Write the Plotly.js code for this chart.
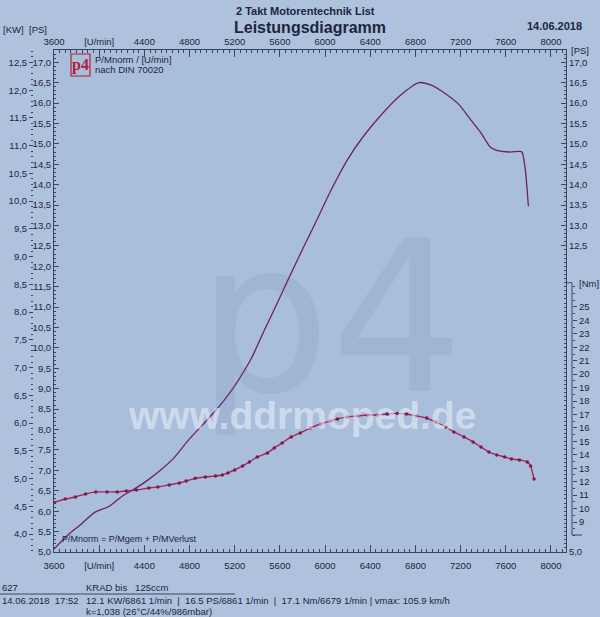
<!DOCTYPE html>
<html><head><meta charset="utf-8">
<script src="https://cdn.plot.ly/plotly-3.0.1.min.js"></script>
<style>html,body{margin:0;padding:0;background:#aec2dd;} #chart{width:600px;height:617px;}</style>
</head><body><div id="chart"></div>
<script>
// ---- data ----
const rpmPower = [3600,3720,3840,3960,4090,4200,4310,4440,4550,4660,4790,4910,5030,5130,5230,5350,5460,5580,5660,5780,5900,6050,6200,6330,6510,6650,6830,6940,7050,7180,7290,7380,7460,7520,7640,7740,7770,7800];
const psPower  = [5.07,5.41,5.68,5.97,6.12,6.36,6.54,6.78,7.02,7.30,7.74,8.10,8.46,8.80,9.20,9.76,10.42,11.12,11.60,12.30,12.98,13.85,14.62,15.15,15.75,16.15,16.50,16.44,16.26,15.98,15.59,15.27,14.93,14.84,14.80,14.81,14.43,13.47];
const rpmTorque = [3600,3700,3790,3880,3970,4070,4160,4240,4330,4440,4520,4620,4710,4770,4850,4940,5030,5090,5140,5200,5270,5330,5400,5490,5550,5620,5700,5780,5870,5960,6050,6110,6200,6290,6380,6460,6550,6640,6720,6810,6900,6980,7070,7140,7230,7310,7380,7450,7520,7590,7650,7720,7790,7820,7850];
const nmTorque  = [10.45,10.71,10.86,11.09,11.24,11.24,11.24,11.31,11.38,11.53,11.61,11.76,11.90,12.05,12.25,12.35,12.43,12.50,12.65,12.87,13.17,13.47,13.84,14.14,14.51,14.88,15.33,15.63,16.00,16.29,16.52,16.67,16.82,16.89,16.96,16.96,17.04,17.08,17.04,16.89,16.74,16.44,16.07,15.70,15.33,14.96,14.58,14.21,13.99,13.84,13.69,13.62,13.47,13.17,12.20];
const xTickVals = [3600,4000,4400,4800,5200,5600,6000,6400,6800,7200,7600,8000];
const xTickText = ['3600','[U/min]','4400','4800','5200','5600','6000','6400','6800','7200','7600','8000'];
const psTickVals = [5,5.5,6,6.5,7,7.5,8,8.5,9,9.5,10,10.5,11,11.5,12,12.5,13,13.5,14,14.5,15,15.5,16,16.5,17];
const kwTickVals = [4,4.5,5,5.5,6,6.5,7,7.5,8,8.5,9,9.5,10,10.5,11,11.5,12,12.5];
const psRightTickVals = [5,12.5,13,13.5,14,14.5,15,15.5,16,16.5,17];
const nmTickVals = [9,10,11,12,13,14,15,16,17,18,19,20,21,22,23,24,25];

// ---- layout helpers ----
const W=600,H=617,L=26,R=18,T=50,B=65;
const px = x => (x-L)/(W-L-R);
const py = y => (H-B-y)/(H-T-B);
const PS_RANGE=[5,17.3];
const KW_PER_PS=0.7355;
const NM_RANGE=[6.768,44.12];
const X_RANGE=[3600,8133];
const TXT='#1c2540', AX='#3a4660';
const FONT='Liberation Sans, Arial, sans-serif';

const nmMinor=[]; for(let v=8;v<=26.6;v+=0.5) nmMinor.push(+v.toFixed(1));

const traces = [
  {x:rpmPower, y:psPower, xaxis:'x', yaxis:'y', mode:'lines', name:'P',
   line:{color:'#6e2260', width:1.3, shape:'spline', smoothing:0.6}, hoverinfo:'skip'},
  {x:rpmTorque, y:nmTorque, xaxis:'x', yaxis:'y3', mode:'lines+markers', name:'M',
   line:{color:'#a3275e', width:1.4, shape:'spline', smoothing:0.4},
   marker:{size:3.5, color:'#7d1a4c'}, hoverinfo:'skip'},
  // carriers so that the extra scales (top rpm, kW, right PS) are drawn; they draw nothing
  {x:rpmPower, y:psPower, xaxis:'x2', yaxis:'y2', mode:'none', hoverinfo:'skip'},
  {x:rpmPower, y:psPower, xaxis:'x', yaxis:'y4', mode:'none', hoverinfo:'skip'}
];

function ann(text,x,y,opt){ return Object.assign({text:text, x:px(x), y:py(y), xref:'paper', yref:'paper', showarrow:false, xanchor:'left', yanchor:'middle', font:{family:FONT,size:9.5,color:TXT}}, opt||{}); }

const xCommon = {range:X_RANGE, tickmode:'array', tickvals:xTickVals, ticktext:xTickText,
    ticks:'inside', ticklen:7, tickcolor:AX, showline:true, linecolor:AX, linewidth:1, showgrid:false, zeroline:false,
    tickfont:{size:9.5}, minor:{ticks:'inside', dtick:50, tick0:3600, ticklen:3, tickcolor:AX}};

const layout = {
  width:W, height:H, margin:{l:L,r:R,t:T,b:B},
  paper_bgcolor:'#aec2dd', plot_bgcolor:'#a9bedb',
  separators:',.', showlegend:false,
  font:{family:FONT, color:TXT, size:10},
  xaxis:Object.assign({domain:[px(54),px(566)], ticklabelstandoff:5}, xCommon),
  xaxis2:Object.assign({overlaying:'x', side:'top', anchor:'y'}, xCommon),
  yaxis:{range:PS_RANGE, tickmode:'array', tickvals:psTickVals, tickformat:'.1f', ticks:'inside', ticklen:5, tickcolor:AX,
    showline:true, linecolor:AX, showgrid:false, zeroline:false, tickfont:{size:9.5},
    minor:{ticks:'inside', dtick:0.1, tick0:5, ticklen:2, tickcolor:AX}},
  yaxis2:{overlaying:'y', anchor:'free', position:px(33), side:'left', range:[PS_RANGE[0]*KW_PER_PS, PS_RANGE[1]*KW_PER_PS],
    tickmode:'array', tickvals:kwTickVals, tickformat:'.1f', ticks:'outside', ticklen:4, tickcolor:AX,
    showline:false, showgrid:false, zeroline:false, tickfont:{size:9.5},
    minor:{ticks:'outside', dtick:0.1, tick0:4, ticklen:2, tickcolor:AX}},
  yaxis3:{overlaying:'y', anchor:'free', position:px(572), side:'right', range:NM_RANGE,
    tickmode:'array', tickvals:nmTickVals, tickformat:'d', ticks:'outside', ticklen:4, tickcolor:AX,
    showline:false, showgrid:false, zeroline:false, tickfont:{size:9.5},
    minor:{ticks:'outside', tickmode:'array', tickvals:nmMinor, ticklen:2, tickcolor:AX}},
  yaxis4:{overlaying:'y', anchor:'x', side:'right', range:PS_RANGE, tickmode:'array', tickvals:psRightTickVals, tickformat:'.1f',
    ticks:'inside', ticklen:5, tickcolor:AX, showline:true, linecolor:AX, showgrid:false, zeroline:false, tickfont:{size:9.5},
    minor:{ticks:'inside', dtick:0.1, tick0:5, ticklen:2, tickcolor:AX}},
  shapes:[
    {type:'line', xref:'paper', yref:'y3', x0:px(572), x1:px(572), y0:8.03, y1:26.8, line:{color:AX,width:1}},
    {type:'line', xref:'paper', yref:'y3', x0:px(566), x1:px(572), y0:26.8, y1:26.8, line:{color:AX,width:1}},
    {type:'line', xref:'paper', yref:'y3', x0:px(572), x1:px(582), y0:8.03, y1:8.03, line:{color:AX,width:1}},
    {type:'rect', xref:'paper', yref:'paper', x0:px(71), x1:px(90), y0:py(54), y1:py(76), line:{color:'#b0203a',width:1.2}},
    {type:'line', xref:'paper', yref:'paper', x0:px(0), x1:px(235), y0:py(594), y1:py(594), line:{color:TXT,width:0.8}}
  ],
  annotations:[
    ann('p4', 330, 318, {xanchor:'center', font:{family:'DejaVu Sans, sans-serif', size:210, color:'rgba(100,120,160,0.13)'}}),
    ann('<b>www.ddrmoped.de</b>', 302, 415, {xanchor:'center', font:{family:FONT, size:39, color:'rgba(238,244,252,0.55)'}}),
    ann('<b>2 Takt Motorentechnik List</b>', 305, 11, {xanchor:'center', font:{family:FONT,size:11,color:TXT}}),
    ann('<b>Leistungsdiagramm</b>', 310, 27, {xanchor:'center', font:{family:FONT,size:16,color:TXT}}),
    ann('<b>14.06.2018</b>', 554, 26, {xanchor:'center', font:{family:FONT,size:11,color:TXT}}),
    ann('[KW]', 26, 29, {xanchor:'right', font:{family:FONT,size:9.5,color:TXT}}),
    ann('[PS]', 49, 29, {xanchor:'right', font:{family:FONT,size:9.5,color:TXT}}),
    ann('[PS]', 569, 50, {font:{family:FONT,size:9.5,color:TXT}}),
    ann('[Nm]', 577, 283, {font:{family:FONT,size:9.5,color:TXT}}),
    ann('<b>p4</b>', 80.5, 65, {xanchor:'center', font:{family:'Liberation Serif, serif',size:16,color:'#b0203a'}}),
    ann('P/Mnorm / [U/min]', 93, 60, {font:{family:FONT,size:9.5,color:TXT}}),
    ann('nach DIN 70020', 93, 70, {font:{family:FONT,size:9.5,color:TXT}}),
    ann('P/Mnorm = P/Mgem + P/MVerlust', 60, 539, {font:{family:FONT,size:9,color:TXT}}),
    ann('627', 0, 587),
    ann('KRAD bis&nbsp;&nbsp;&nbsp;125ccm', 84, 587),
    ann('14.06.2018&nbsp;&nbsp;17:52', 0, 600),
    ann('12.1 KW/6861 1/min&nbsp;&nbsp;|&nbsp;&nbsp;16.5 PS/6861 1/min&nbsp;&nbsp;|&nbsp;&nbsp;17.1 Nm/6679 1/min | vmax: 105.9 km/h', 84, 600),
    ann('k=1,038 (26°C/44%/986mbar)', 84, 611)
  ]
};
Plotly.newPlot('chart', traces, layout, {staticPlot:true, displayModeBar:false});
</script></body></html>
